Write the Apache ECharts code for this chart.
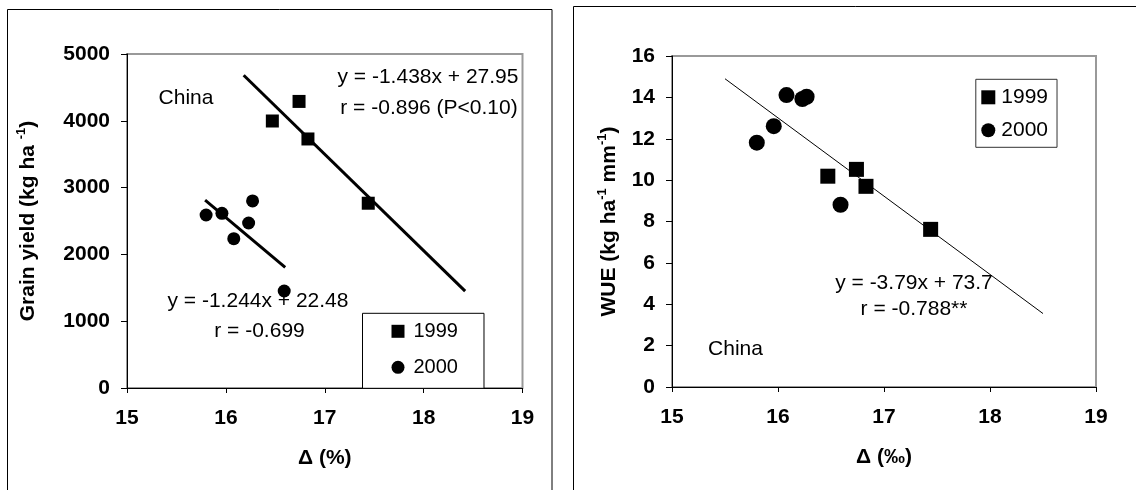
<!DOCTYPE html>
<html>
<head>
<meta charset="utf-8">
<script src="https://cdn.jsdelivr.net/npm/echarts@6/dist/echarts.min.js"></script>
<style>
  html, body { margin: 0; padding: 0; background: #fff; }
  #chart { width: 1136px; height: 490px; }
</style>
</head>
<body>
<div id="chart"></div>
<script>
// ---- data ----
const delta1999 = [16.47, 16.74, 16.83, 17.44];
const delta2000 = [15.80, 15.96, 16.08, 16.23, 16.27, 16.59];
const yield1999 = [3997, 4290, 3728, 2766];
const yield2000 = [2590, 2615, 2235, 2470, 2800, 1452];
const wue1999 = [10.19, 10.52, 9.70, 7.62];
const wue2000 = [11.81, 12.61, 14.11, 13.92, 14.03, 8.81];

// trend-line end points (as drawn)
const fitYield1999X = [16.18, 18.42];
const fitYield1999Y = [4682, 1450];
const fitYield2000X = [15.79, 16.60];
const fitYield2000Y = [2812, 1806];
const fitWueX = [15.5, 18.5];
const fitWueY = [14.9, 3.55];

// axes
const xRange = [15, 19];
const xStep = 1;
const yieldRange = [0, 5000];
const yieldStep = 1000;
const wueRange = [0, 16];
const wueStep = 2;

const legendNames = ['1999', '2000'];

const FONT = '"Liberation Sans", Arial, Helvetica, sans-serif';

function pairs(xs, ys) { return xs.map((x, i) => [x, ys[i]]); }

function xAxisCfg(gridIndex, name) {
  return {
    type: 'value', gridIndex, min: xRange[0], max: xRange[1], interval: xStep,
    name, nameLocation: 'middle', nameGap: 60,
    nameTextStyle: { fontFamily: FONT, fontSize: 21, fontWeight: 'bold', color: '#000' },
    axisLine: { show: true, onZero: false, lineStyle: { color: '#000', width: 1 } },
    axisTick: { show: true, inside: false, length: 5, lineStyle: { color: '#000' } },
    axisLabel: { fontFamily: FONT, fontSize: 21, fontWeight: 'bold', color: '#000', margin: 20,
                 formatter: v => String(v) },
    splitLine: { show: false }
  };
}
function yAxisCfg(gridIndex, range, step, name, nameGap, rich) {
  return {
    type: 'value', gridIndex, min: range[0], max: range[1], interval: step,
    name, nameLocation: 'middle', nameGap, nameRotate: 90,
    nameTextStyle: { fontFamily: FONT, fontSize: 21, fontWeight: 'bold', color: '#000', rich },
    axisLine: { show: true, onZero: false, lineStyle: { color: '#000', width: 1 } },
    axisTick: { show: true, inside: false, length: 6, lineStyle: { color: '#000' } },
    axisLabel: { fontFamily: FONT, fontSize: 21, fontWeight: 'bold', color: '#000', margin: 17,
                 formatter: v => String(v) },
    splitLine: { show: false }
  };
}

const richTitle = {
  b: { fontFamily: FONT, fontSize: 21, fontWeight: 'bold', color: '#000', lineHeight: 26 },
  sup: { fontFamily: FONT, fontSize: 13, fontWeight: 'bold', color: '#000', lineHeight: 14, verticalAlign: 'top' }
};

function txt(x, y, text) {
  return {
    type: 'text', x, y,
    style: { text, fontFamily: FONT, fontSize: 21, fill: '#000', align: 'center', verticalAlign: 'middle' }
  };
}

const chart = echarts.init(document.getElementById('chart'), null, { renderer: 'canvas' });

const option = {
  backgroundColor: '#fff',
  animation: false,
  grid: [
    { left: 127, top: 54, width: 395.5, height: 334, show: true, borderColor: '#999', borderWidth: 2, backgroundColor: 'transparent' },
    { left: 672, top: 56, width: 424, height: 331, show: true, borderColor: '#999', borderWidth: 2, backgroundColor: 'transparent' }
  ],
  xAxis: [
    xAxisCfg(0, 'Δ (%)'),
    xAxisCfg(1, 'Δ (‰)')
  ],
  yAxis: [
    yAxisCfg(0, yieldRange, yieldStep, '{b|Grain yield (kg ha }{sup|-1}{b|)}', 86, richTitle),
    yAxisCfg(1, wueRange, wueStep, '{b|WUE (kg ha}{sup|-1}{b| mm}{sup|-1}{b|)}', 50, richTitle)
  ],
  legend: [
    {
      orient: 'vertical', left: 362.5, top: 313.3,
      padding: [7, 26, 10, 29], itemGap: 14, itemWidth: 13, itemHeight: 13,
      borderColor: '#000', borderWidth: 1, backgroundColor: '#fff',
      selectedMode: false,
      textStyle: { fontFamily: FONT, fontSize: 20, color: '#000', lineHeight: 22, padding: [0, 0, 0, 4] },
      data: [{ name: legendNames[0], icon: 'rect' }, { name: legendNames[1], icon: 'circle' }]
    },
    {
      orient: 'vertical', left: 975.8, top: 79.3,
      padding: [7, 9, 6, 5.5], itemGap: 11, itemWidth: 14, itemHeight: 14,
      borderColor: '#333', borderWidth: 1, backgroundColor: '#fff',
      selectedMode: false,
      textStyle: { fontFamily: FONT, fontSize: 21, color: '#000', lineHeight: 22, padding: [0, 0, 0, 1] },
      data: [{ name: legendNames[0], icon: 'rect' }, { name: legendNames[1], icon: 'circle' }]
    }
  ],
  series: [
    { name: 'fitY99', type: 'line', xAxisIndex: 0, yAxisIndex: 0, data: pairs(fitYield1999X, fitYield1999Y),
      showSymbol: false, lineStyle: { color: '#000', width: 3 }, silent: true, z: 1 },
    { name: 'fitY00', type: 'line', xAxisIndex: 0, yAxisIndex: 0, data: pairs(fitYield2000X, fitYield2000Y),
      showSymbol: false, lineStyle: { color: '#000', width: 3 }, silent: true, z: 1 },
    { name: legendNames[0], type: 'scatter', xAxisIndex: 0, yAxisIndex: 0, data: pairs(delta1999, yield1999),
      symbol: 'rect', symbolSize: 13, itemStyle: { color: '#000', opacity: 1 }, z: 3 },
    { name: legendNames[1], type: 'scatter', xAxisIndex: 0, yAxisIndex: 0, data: pairs(delta2000, yield2000),
      symbol: 'circle', symbolSize: 13, itemStyle: { color: '#000', opacity: 1 }, z: 3 },

    { name: 'fitW', type: 'line', xAxisIndex: 1, yAxisIndex: 1, data: pairs(fitWueX, fitWueY),
      showSymbol: false, lineStyle: { color: '#000', width: 1 }, silent: true, z: 1 },
    { name: legendNames[0], type: 'scatter', xAxisIndex: 1, yAxisIndex: 1, data: pairs(delta1999, wue1999),
      symbol: 'rect', symbolSize: 15, itemStyle: { color: '#000', opacity: 1 }, z: 3 },
    { name: legendNames[1], type: 'scatter', xAxisIndex: 1, yAxisIndex: 1, data: pairs(delta2000, wue2000),
      symbol: 'circle', symbolSize: 16, itemStyle: { color: '#000', opacity: 1 }, z: 3 }
  ],
  graphic: [
    { type: 'rect', shape: { x: 7.5, y: 9.5, width: 544.5, height: 520 }, style: { fill: 'none', stroke: '#000', lineWidth: 1 }, silent: true },
    { type: 'rect', shape: { x: 573.5, y: 6.5, width: 620, height: 520 }, style: { fill: 'none', stroke: '#000', lineWidth: 1 }, silent: true },
    txt(186, 98, 'China'),
    txt(428, 77, 'y = -1.438x + 27.95'),
    txt(429, 108, 'r = -0.896 (P<0.10)'),
    txt(258, 301, 'y = -1.244x + 22.48'),
    txt(259.5, 331, 'r = -0.699'),
    txt(914, 283, 'y = -3.79x + 73.7'),
    txt(914, 309, 'r = -0.788**'),
    txt(735.5, 349.5, 'China')
  ]
};

chart.setOption(option);
</script>
</body>
</html>
